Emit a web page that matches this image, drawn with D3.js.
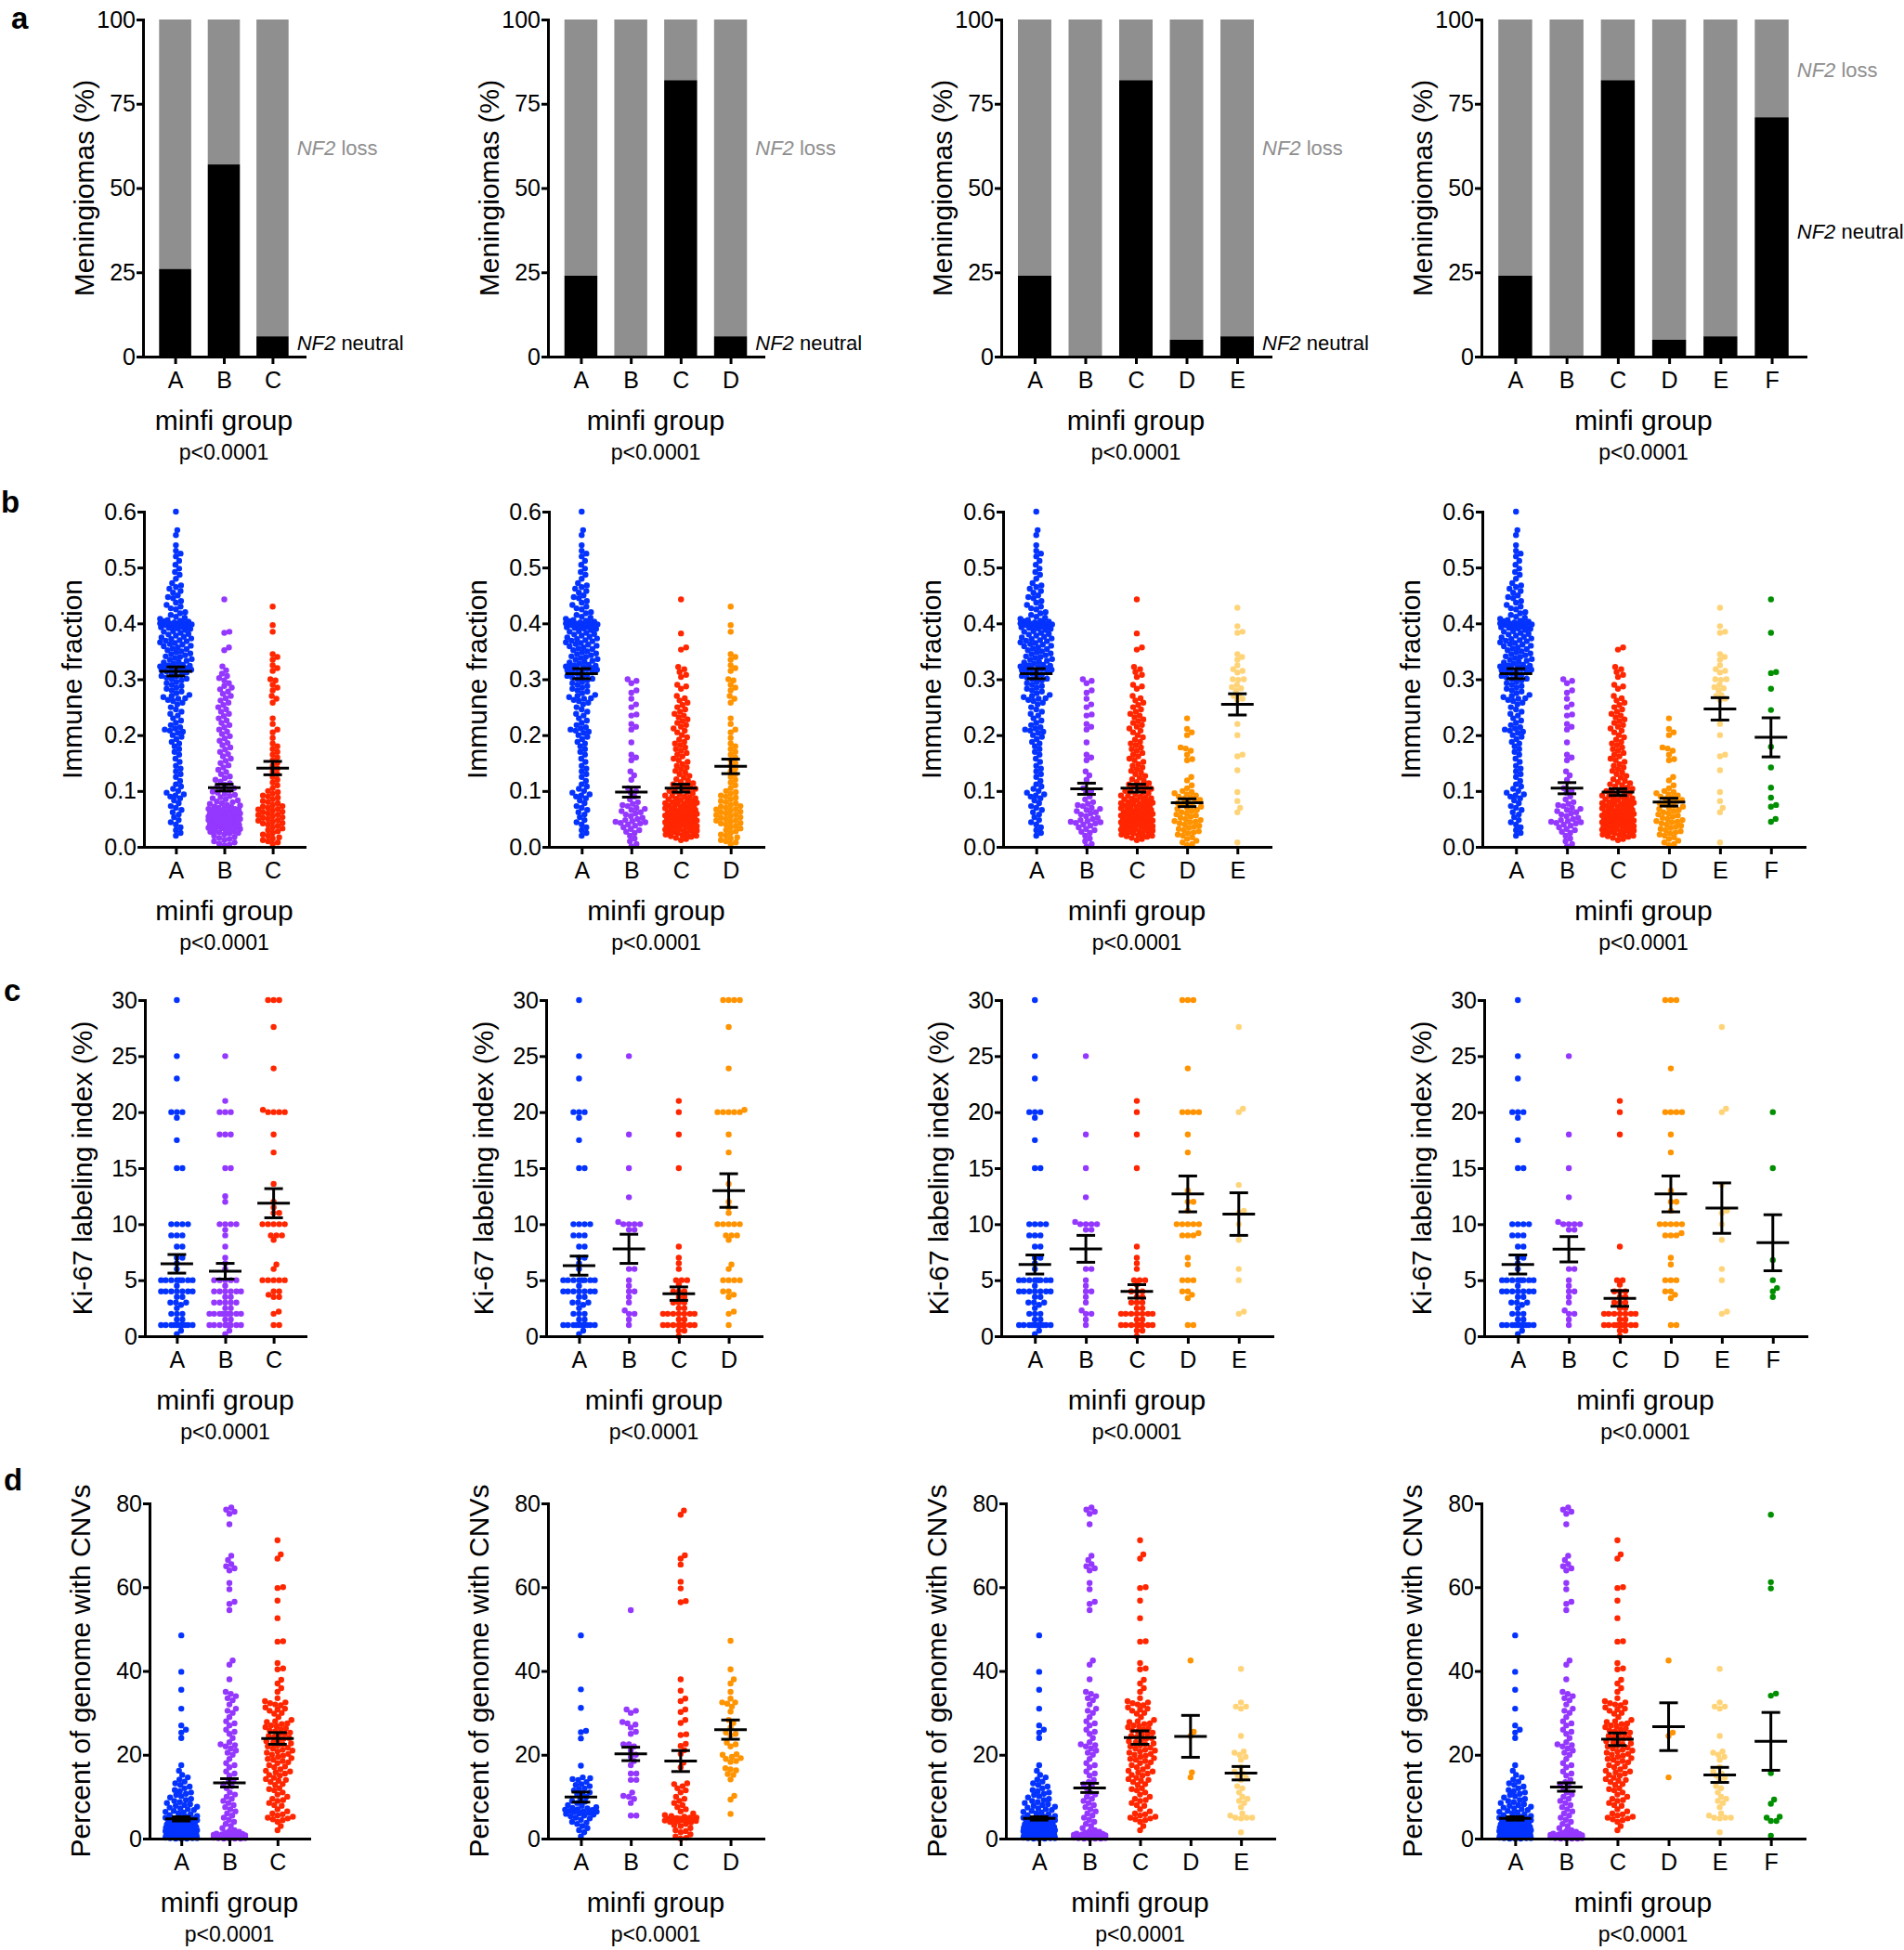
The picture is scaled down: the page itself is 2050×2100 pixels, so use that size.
<!DOCTYPE html>
<html>
<head>
<meta charset="utf-8">
<script src="https://cdn.jsdelivr.net/npm/d3@7"></script>
<style>
  body { margin: 0; background: #fff; }
</style>
</head>
<body>
<svg id="chart" width="2050" height="2100"></svg>
<script>
const GROUPS = ['A', 'B', 'C', 'D', 'E', 'F']
const COLORS = { A: '#0433ff', B: '#9437ff', C: '#ff2600', D: '#ff9300', E: '#ffd479', F: '#008f00' }

// ---- a: NF2 neutral share (%) per minfi group, one list per panel (rest is NF2 loss)
const nf2Neutral = [[26, 57, 6], [24, 0, 82, 6], [24, 0, 82, 5, 6], [24, 0, 82, 5, 6, 71]]

// ---- b: immune fraction
const IMM_A = [.600,.567,.558,.540,.530,.525,.520,.512,.505,.498,.492,.487,.480,.472,.468,.465,.462,.458,.455,.450,.447,
  .445,.440,.437,.433,.430,.427,.425,.420,.418,.415,.412,.410,.408,.406,.405,.404,.403,.402,.401,.400,.400,.399,.398,.397,.396,.395,.394,.393,.392,.391,
  .390,.388,.386,.385,.383,.381,.380,.378,.376,.375,.373,.372,.370,.369,.368,.366,.365,.363,.362,.360,.359,.357,.355,.354,.352,.350,
  .348,.346,.345,.343,.341,.340,.338,.336,.335,.333,.331,.330,.328,.326,.325,.324,.323,.322,.321,.320,.319,.318,.317,.316,.315,.314,.312,.310,.308,.306,.305,.303,.301,.300,
  .298,.295,.293,.290,.288,.285,.283,.280,.278,.275,.272,.270,.268,.266,.265,.263,.261,
  .258,.255,.250,.246,.242,.238,.235,.230,.226,.222,.218,.214,.212,.210,.208,.206,.204,.200,
  .197,.193,.188,.185,.180,.175,.170,.165,.158,.152,.145,.140,.135,.130,.125,.118,.112,.108,.104,.100,
  .097,.094,.092,.090,.087,.083,.078,.073,.070,.066,.062,.058,.053,.048,.044,.040,.035,.030,.025,.020]
const IMM_B3 = [.443,.385,.383,.357,.352,.323,.316,.310,.306,.302,.298,.293,.288,.285,.282,.278,.274,.270,.266,.262,.258,.254,.250,.246,.242,.238,.234,.230,.226,.222,.218,.214,.210,.206,.202,.198,.194,.190,.186,.182,.178,.174,.170,.166,.162,.158,.154,.150,.146,.142,.138,.134,.130,.126,.123,.120,.117,.114,.111,.108,.105,.103,.101,
  .099,.097,.095,.093,.091,.089,.087,.085,.083,.081,.080,.078,.077,.075,.074,.072,.071,.070,.069,.068,.067,.066,.065,.064,.063,.062,.061,.060,.059,.058,.057,.056,.055,.054,.053,.052,.051,.050,.049,.048,.047,.046,.045,.044,.043,.042,.041,.040,.039,.038,.037,.036,.035,.034,.033,.032,.031,.030,.029,.028,.027,.026,.025,.024,.022,.020,.018,.016,.014,.012,.010,.008,.006,.004,.002,
  .068,.064,.060,.056,.052,.048,.045,.042,.039,.036,.058,.054,.050,.046]
const IMM_C3 = [.430,.397,.385,.345,.340,.335,.325,.320,.315,.300,.298,.290,.285,.280,.270,.265,.258,.230,.220,.210,.205,.195,.185,.180,.175,.170,.165,.160,.155,.150,.145,.140,.135,.130,.125,.120,.115,.110,.105,.100,
  .098,.095,.092,.090,.088,.085,.082,.080,.078,.075,.073,.072,.070,.068,.067,.065,.063,.062,.060,.058,.057,.055,.053,.052,.050,.048,.047,.045,.043,.042,.040,.038,.035,.033,.030,.028,.025,.022,.020,.017,.015,.012,.010,.008,.005]
const IMM_B = [.300,.297,.293,.280,.276,.265,.255,.250,.237,.235,.220,.215,.210,.187,.165,.160,.155,.135,.128,.120,.105,.100,.097,.090,.085,.080,.077,.075,.073,.070,.068,.066,.064,.062,.060,.058,.055,.052,.050,.048,.046,.045,.044,.043,.042,.040,.038,.035,.032,.030,.027,.025,.020,.015,.010,.005,.001]
const IMM_C_TOP = [.443, .382]
const IMM_C_REST = [.357,.353,.322,.318,.313,.308,.304,.290,.287,.283,.270,.266,.262,.258,.254,.250,.246,.242,.238,.235,.232,.228,.225,.222,.218,.215,.212,.208,.205,.200,.196,.192,.188,.185,.182,.178,.175,.172,.168,.165,.162,.158,.155,.152,.148,.145,.142,.139,.136,.133,.130,.127,.124,.121,.118,.116,.114,.112,.110,.108,.106,.104,.102,.100,
  .099,.098,.096,.094,.092,.091,.090,.088,.087,.086,.085,.084,.082,.081,.080,.079,.078,.077,.076,.075,.074,.073,.072,.071,.070,.069,.068,.067,.066,.065,.064,.063,.062,.061,.060,.060,.059,.058,.057,.056,.056,.055,.054,.053,.053,.052,.051,.050,.050,.049,.048,.047,.047,.046,.045,.044,.044,.043,.042,.041,.040,.040,.039,.038,.037,.036,.035,.034,.033,.032,.031,.030,.029,.028,.027,.026,.025,.024,.023,.022,.021,.020,.019,.018,.016,.014,.012]
const IMM_D = [.230,.211,.205,.200,.178,.176,.172,.165,.157,.155,.125,.119,.110,.105,.100,.098,.096,.094,.092,.090,.088,.086,.084,.082,.080,.078,.076,.074,.072,.070,.068,.066,.064,.062,.060,.058,.056,.054,.052,.050,.048,.046,.045,.044,.042,.040,.038,.036,.034,.032,.030,.028,.026,.024,.022,.020,.017,.014,.011,.008,.005,.003]
const IMM_E = [.428,.395,.385,.383,.345,.340,.335,.325,.318,.315,.312,.300,.300,.299,.290,.286,.284,.280,.272,.270,.265,.263,.220,.200,.165,.162,.137,.098,.082,.070,.062,.008]
const IMM_F = [.443,.383,.313,.311,.283,.245,.179,.142,.106,.088,.075,.072,.050,.045]
const IMM_MEAN = [[.314, .106, .141], [.310, .098, .105, .144], [.310, .104, .105, .079, .255], [.310, .105, .098, .080, .247, .196]]
const IMM_SEM = [[.008, .006, .012], [.009, .009, .007, .013], [.009, .010, .007, .007, .019], [.009, .010, .006, .007, .020, .035]]

// ---- c: Ki-67 labeling index (%)
const KI_A = [30,25,23,20,20,20,19.5,17.5,15,15,10,10,10,10,9,9,9,8,8,7,7,6.5,6,5,5,5,5,5,5,5,5,4.5,4,4,4,4,4,4,4,3.5,3.5,3,3,3,2.8,2.5,2,2,2,1.5,1.5,1,1,1,1,1,1,1,1,1,1,0.5,0.2]
const KI_B3 = [25,21,20,20,20,18,18,18,15,15,12.5,12,10,10,10,10,9.5,9,8,7,6.5,6,5,5,5,5,5,4.5,4,4,4,4,4,4,3.5,3.5,3,3,3,3,3,2.5,2.5,2,2,2,2,2,2,2,2,2,1.5,1.5,1,1,1,1,1,1,1,1,0.5,0.2]
const KI_C3 = [30,30,30,27.6,23.9,20,20,20,20.2,20,18,16.4,13.6,12,11,11.5,11,10,10,10,10,10,9,9,9,8.6,6.4,6,5,5,5,5,5,4,4,3.5,3.5,3.7,2.2,2,1,1]
const KI_B = [25,18,15,12.4,10.2,10,10,10,10,9.5,9.5,6,6,5,4.5,4,4,3.5,3,2.3,2,2,1.5,1]
const KI_C5 = [21,20,18,15,8,7,6.5,6,5,5,5,4.6,4,4,4,3.5,3.5,3,3,3,2.5,2.5,2,2,2,2,2,2,2,1.5,1.5,1,1,1,1,1,1,1,1,0.5,0.5,0]
const KI_C6 = [21,20,18,8,5,5,4.6,4,4,4,3.5,3.5,3,3,3,2.5,2.5,2,2,2,2,2,2,2,1.5,1.5,1,1,1,1,1,1,1,1,1,0.5,0.5,0]
const KI_D2 = [30,30,30,30,27.6,23.9,20,20,20,20,20,20.2,18,16.4,13.6,12,11.5,11,10,10,10,10,10,9,9,9,8.6,6.4,6,5,5,5,5,4,4,3.7,3.5,2.2,2,1]
const KI_D = [30,30,30,23.9,20,20,20,20,18,16.4,13,12,12,11.2,10,10,10,10,10,9.2,9,9,9,7,6.4,5,5,5,4,4,3.7,3.4,1,1]
const KI_E = [27.6,20.3,20,13.5,11.2,11,10,8.6,6,5,2.2,2]
const KI_F = [20,15,6.8,5,4.3,4,3.5]
const KI_MEAN = [[6.46, 5.8, 11.87], [6.3, 7.8, 3.8, 13.0], [6.4, 7.8, 4.0, 12.7, 10.9], [6.4, 7.76, 3.37, 12.7, 11.43, 8.34]]
const KI_SEM = [[.83, .7, 1.3], [.85, 1.3, .6, 1.5], [.85, 1.2, .6, 1.6, 1.9], [.85, 1.13, .7, 1.6, 2.25, 2.5]]

// ---- d: percent of genome with CNVs
const CNV_A = [48.5,39.8,35.5,31,27,26,25.3,24,17.5,16.2,15.2,14.6,14.1,13.6,13.2,12.8,12.4,12,11.6,11.3,11,10.7,10.4,10.1,9.8,9.5,9.2,9,8.7,8.5,8.2,8,7.8,7.6,7.4,7.2,7,6.8,6.6,6.4,6.2,6,5.8,5.6,5.4,5.2,5,5,4.8,4.8,4.6,4.6,4.4,4.4,4.2,4.2,4,4,3.8,3.8,3.6,3.6,3.4,3.4,3.2,3.2,3,3,2.8,2.8,2.6,2.6,2.4,2.4,2.2,2.2,2.2,2,2,2,1.8,1.8,1.8,1.6,1.6,1.6,1.4,1.4,1.4,1.2,1.2,1.2,1.2,1,1,1,1,0.9,0.9,0.8,0.8,0.8,0.7,0.7,0.6,0.6,0.6,0.5,0.5,0.5,0.4,0.4,0.4,0.3,0.3,0.3,0.2,0.2,0.2,0.1,0.1,0.1,0,0,0]
const CNV_B = [79,78.5,78,77.5,75,67.5,66.5,65.5,65,64.5,64,61,59.5,56.5,56,54.5,42.5,41.5,38,35,34.5,34,33.5,33,32,31,30.5,30,29,28,27.5,27,26,25.5,25,24,23,22.5,22.3,22,21.5,21,20.5,20,19,18,17.5,17,16,15.5,15,14,13.5,13,12.5,12,11,10.5,10,9.5,9,8.5,8,7.5,7,6.5,6,5.5,5,4.5,4,3.5,3,2.5,2,1.8,1.6,1.4,1.2,1.1,1,1,0.9,0.9,0.8,0.8,0.7,0.7,0.6,0.6,0.5,0.5,0.4,0.4,0.3,0.3,0.2,0.2,0.1,0.1,0,0,0,0]
const CNV_C = [71.2,67.8,66.8,60,59.8,56.8,52.6,47.1,47,41.9,40.6,40.4,37.9,37,35.9,35,33.5,32.8,32.5,32.3,32,31.8,31.3,31,30.8,30.5,30,29.8,29,28.3,28,27.8,27.5,27.3,27,26.8,26.6,26.3,26,25.8,25.6,25.3,25,24.8,24.5,24.3,24,23.8,23.5,23.2,23,22.7,22.5,22.2,22,21.7,21.5,21.2,21,20.8,20.5,20.2,20,19.8,19.5,19.2,19,18.8,18.5,18.2,18,17.5,17.2,17,16.5,16.2,16,15.8,15.5,15.2,15,14.5,14.2,14,13.8,13.5,13,12.8,12,11.8,11.5,11,10.5,10,9.5,9.2,9,8.5,8,7.8,7,6.5,6,5.8,5.5,5.2,5,4.8,4.6,4.4,4,3,2]
const CNV_A2 = [48.5,35.6,31.2,25.7,25.4,23.9,17.4,14.6,14.4,14.2,14,13.5,13,12.8,12.5,12,11.8,11.5,11,10.8,10.5,10,9.5,9,8.8,8.5,8,7.8,7.5,7.3,7.2,7,6.9,6.8,6.6,6.5,6.4,6.3,6.1,6,5.9,5.7,5.5,5.3,5,4.8,4.5,4,3.8,3.5,3,2.5,2,1.5,0.5]
const CNV_B2 = [54.5,30.8,30.5,30,27.8,27.5,27.2,26.5,25.5,25,22.5,22.5,22,21,20,19.5,18.5,17.5,15.5,15.5,14,14,11,10.2,10,9.5,8.5,5.5,5.5]
const CNV_C2 = [78.3,77.3,67.6,66.8,65.4,61.3,59.7,56.7,56.4,38,35.3,33.4,32.8,30.8,30.2,28.3,27.6,24.9,24.7,22.6,22.1,21.1,20.2,18.1,17,13.2,13,12.5,12,11.5,11,10,9.5,9,8.5,8,7.5,7,6.5,6,5.6,5.4,5.2,5,5,4.9,4.8,4.7,4.6,4.5,4.5,4.4,4.3,4.2,4.1,4,3.8,3.5,3.2,3,2.5,2,1.8,1.5,1,0.5,0.2,0]
const CNV_D2 = [47.2,40.4,38,37,35,33.4,32.5,32.5,32.2,31.5,30.3,28.3,27.6,26.5,25.3,25,24.6,22.9,22.5,22,20.1,20,19.5,19.2,19,18.5,18.3,16.8,16.5,16.3,15.4,15.2,14.1,10.2,9.3,5.9]
const CNV_D5 = [42.5, 25.5, 24.5, 15.8, 14.6]
const CNV_D6 = [42.5, 25.3, 24.5, 14.6]
const CNV_E = [40.5,32.5,31.5,31,31.5,24.5,20.8,20.5,20,19.5,18.8,17,16,15.5,15,14.5,14,12.5,12,11,10,9.5,9,8.5,7.5,6,5.5,5,5,5,4.8,1.5]
const CNV_F = [77.3,61.2,59.7,34.6,34.1,15.6,9.3,8.3,5.2,5,4.2,4.2,0.7]
const CNV_MEAN = [[4.7, 13.3, 23.9], [9.9, 20.2, 18.5, 26.0], [4.8, 12.1, 24.1, 24.4, 15.6], [4.8, 12.3, 23.7, 26.7, 15.2, 23.2]]
const CNV_SEM = [[.5, 1.0, 1.4], [1.2, 1.6, 2.5, 2.3], [.4, 1.1, 1.6, 5.0, 1.6], [.4, 1.0, 1.5, 5.7, 1.8, 6.9]]

// ---- page layout (pixels), one entry per row, xr = y-axis x and x-axis end per panel
const FONT = '"Liberation Sans", Arial, Helvetica, sans-serif'
const ROWS = {
  a: { letter: 'a', lx: 12, ly: 31, yr: [384, 21], domain: [0, 100], ticks: [0, 25, 50, 75, 100], fmt: d3.format('d'),
       label: 'Meningiomas (%)', labelOff: 53, xr: [[154, 328], [590, 822], [1078, 1368], [1595, 1944]] },
  b: { letter: 'b', lx: 1, ly: 552, yr: [912, 551], domain: [0, 0.6], ticks: [0, .1, .2, .3, .4, .5, .6], fmt: d3.format('.1f'),
       label: 'Immune fraction', labelOff: 67, xr: [[155, 328], [591, 822], [1080, 1368], [1596, 1943]] },
  c: { letter: 'c', lx: 4, ly: 1078, yr: [1439, 1077], domain: [0, 30], ticks: [0, 5, 10, 15, 20, 25, 30], fmt: d3.format('d'),
       label: 'Ki-67 labeling index (%)', labelOff: 57, xr: [[156, 329], [588, 820], [1078, 1370], [1598, 1945]] },
  d: { letter: 'd', lx: 4, ly: 1605, yr: [1980, 1619], domain: [0, 80], ticks: [0, 20, 40, 60, 80], fmt: d3.format('d'),
       label: 'Percent of genome with CNVs', labelOff: 64, xr: [[161, 333], [590, 822], [1083, 1372], [1595, 1943]] }
}
// where the NF2 legend labels sit, in % units of each bar panel: [loss, neutral]
const NF2_LABEL_AT = [[62, 4], [62, 4], [62, 4], [85, 37]]

const svg = d3.select('#chart').attr('font-family', FONT)

function panel(row, col) {
  const groups = GROUPS.slice(0, col + 3)
  const xr = row.xr[col]
  const x = d3.scalePoint().domain(groups).range(xr).padding(0.66)
  const y = d3.scaleLinear().domain(row.domain).range(row.yr)
  return { groups, x, y, xr }
}

function styleAxis(sel) {
  sel.attr('font-family', FONT)
  sel.selectAll('.domain, .tick line').attr('stroke', '#000').attr('stroke-width', 3)
  sel.selectAll('.domain').attr('stroke-linecap', 'square')
  sel.selectAll('text').attr('font-size', 25).attr('fill', '#000')
}

function drawFrame(row, p) {
  const g = svg.append('g')
  g.append('g')
    .attr('transform', `translate(0,${row.yr[0]})`)
    .call(d3.axisBottom(p.x).tickSize(8).tickPadding(8).tickSizeOuter(0))
    .call(styleAxis)
  g.append('g')
    .attr('transform', `translate(${p.xr[0]},0)`)
    .call(d3.axisLeft(p.y).tickValues(row.ticks).tickFormat(row.fmt).tickSize(7).tickPadding(1).tickSizeOuter(0))
    .call(styleAxis)

  g.append('text')
    .attr('transform', `translate(${p.xr[0] - row.labelOff},${(row.yr[0] + row.yr[1]) / 2}) rotate(-90)`)
    .attr('text-anchor', 'middle')
    .attr('font-size', 30)
    .text(row.label)

  const cx = (p.xr[0] + p.xr[1]) / 2
  g.append('text').attr('x', cx).attr('y', row.yr[0] + 79)
    .attr('text-anchor', 'middle').attr('font-size', 30).text('minfi group')
  g.append('text').attr('x', cx).attr('y', row.yr[0] + 111)
    .attr('text-anchor', 'middle').attr('font-size', 23).text('p<0.0001')
}

// column scatter: spread points sideways so they don't overlap, within the column width
function swarm(values, y, cx) {
  const D = 5.6, CAP = 17
  const pts = values.map(v => ({ v, y: y(v) })).sort((a, b) => b.y - a.y)
  const placed = []
  pts.forEach(p => {
    const near = placed.filter(q => Math.abs(q.y - p.y) < D)
    let best = 0, bestGap = -1
    for (let i = 0; i <= CAP * 4; i++) {
      const off = (i % 2 ? 1 : -1) * Math.ceil(i / 2) * 0.5
      let gap = Infinity
      near.forEach(q => { gap = Math.min(gap, Math.hypot(q.dx - off, q.y - p.y)) })
      if (gap >= D) { best = off; bestGap = gap; break }
      if (gap > bestGap) { best = off; bestGap = gap }
    }
    p.dx = best
    placed.push(p)
  })
  return pts.map(p => ({ x: cx + p.dx, y: p.y }))
}

function errorBar(g, cx, y, m, s) {
  const segs = [
    [cx - 17.5, y(m), cx + 17.5, y(m)],
    [cx, y(m - s), cx, y(m + s)],
    [cx - 10, y(m + s), cx + 10, y(m + s)],
    [cx - 10, y(m - s), cx + 10, y(m - s)]
  ]
  g.selectAll(null).data(segs).join('line')
    .attr('x1', d => d[0]).attr('y1', d => d[1])
    .attr('x2', d => d[2]).attr('y2', d => d[3])
    .attr('stroke', '#000').attr('stroke-width', 3)
}

function scatterRow(row, seriesList, means, sems) {
  seriesList.forEach((series, col) => {
    const p = panel(row, col)
    const g = svg.append('g')
    series.forEach((vals, i) => {
      const grp = p.groups[i]
      g.append('g')
        .selectAll('circle')
        .data(swarm(vals, p.y, p.x(grp)))
        .join('circle')
        .attr('cx', d => d.x)
        .attr('cy', d => d.y)
        .attr('r', 3.2)
        .attr('fill', COLORS[grp])
    })
    p.groups.forEach((grp, i) => errorBar(g, p.x(grp), p.y, means[col][i], sems[col][i]))
    drawFrame(row, p)
  })
}

function barRow(row) {
  nf2Neutral.forEach((vals, col) => {
    const p = panel(row, col)
    const bw = p.x.step() * 0.66
    const g = svg.append('g')
    const data = vals.map((v, i) => ({ grp: p.groups[i], v }))

    g.selectAll('rect.loss').data(data).join('rect')
      .attr('x', d => p.x(d.grp) - bw / 2)
      .attr('y', p.y(100))
      .attr('width', bw)
      .attr('height', d => p.y(d.v) - p.y(100))
      .attr('fill', '#8f8f8f')
    g.selectAll('rect.neutral').data(data).join('rect')
      .attr('x', d => p.x(d.grp) - bw / 2)
      .attr('y', d => p.y(d.v))
      .attr('width', bw)
      .attr('height', d => p.y(0) - p.y(d.v))
      .attr('fill', '#000')

    const lx = p.x(p.groups[p.groups.length - 1]) + bw / 2 + 9
    const at = NF2_LABEL_AT[col]
    const loss = g.append('text').attr('x', lx).attr('y', p.y(at[0])).attr('dy', '0.35em')
      .attr('font-size', 22).attr('fill', '#8e8e8e')
    loss.append('tspan').attr('font-style', 'italic').text('NF2')
    loss.append('tspan').text(' loss')
    const neu = g.append('text').attr('x', lx).attr('y', p.y(at[1])).attr('dy', '0.35em')
      .attr('font-size', 22).attr('fill', '#000')
    neu.append('tspan').attr('font-style', 'italic').text('NF2')
    neu.append('tspan').text(' neutral')

    drawFrame(row, p)
  })
}

barRow(ROWS.a)

scatterRow(ROWS.b, [
  [IMM_A, IMM_B3, IMM_C3],
  [IMM_A, IMM_B, IMM_C_TOP.concat(IMM_C_REST), IMM_C3],
  [IMM_A, IMM_B, IMM_C_TOP.concat(IMM_C_REST), IMM_D, IMM_E],
  [IMM_A, IMM_B, IMM_C_REST, IMM_D, IMM_E, IMM_F]
], IMM_MEAN, IMM_SEM)

scatterRow(ROWS.c, [
  [KI_A, KI_B3, KI_C3],
  [KI_A, KI_B, KI_C5, KI_D2],
  [KI_A, KI_B, KI_C5, KI_D, KI_E],
  [KI_A, KI_B, KI_C6, KI_D, KI_E, KI_F]
], KI_MEAN, KI_SEM)

scatterRow(ROWS.d, [
  [CNV_A, CNV_B, CNV_C],
  [CNV_A2, CNV_B2, CNV_C2, CNV_D2],
  [CNV_A, CNV_B, CNV_C, CNV_D5, CNV_E],
  [CNV_A, CNV_B, CNV_C, CNV_D6, CNV_E, CNV_F]
], CNV_MEAN, CNV_SEM)

// panel letters
Object.values(ROWS).forEach(r => {
  svg.append('text').attr('x', r.lx).attr('y', r.ly)
    .attr('font-size', 33).attr('font-weight', 'bold').text(r.letter)
})
</script>
</body>
</html>
